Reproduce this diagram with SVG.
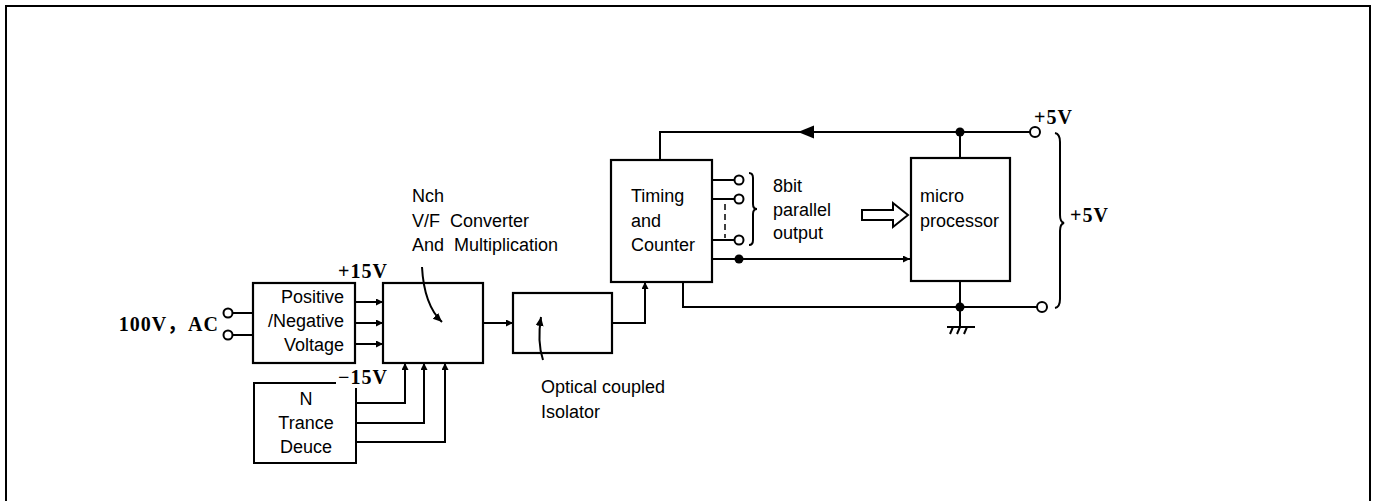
<svg xmlns="http://www.w3.org/2000/svg" width="1375" height="501" viewBox="0 0 1375 501">
<style>
.box{fill:#fff;stroke:#000;stroke-width:2.2}
.ln{fill:none;stroke:#000;stroke-width:2}
.t{font-family:"Liberation Sans",Arial,sans-serif;font-size:18px;fill:#000}
.s{font-family:"Liberation Serif","Times New Roman","Noto Sans CJK SC",serif;font-size:20px;font-weight:bold;fill:#000;letter-spacing:1px}
.term{fill:#fff;stroke:#000;stroke-width:2}
.dot{fill:#000}
</style>
<defs>
<marker id="ah" viewBox="0 0 8 8" refX="8" refY="4" markerWidth="8" markerHeight="7" markerUnits="userSpaceOnUse" orient="auto">
<path d="M0,0 L8,4 L0,8 Z" fill="#000"/>
</marker>
<marker id="ah2" viewBox="0 0 10 10" refX="9" refY="5" markerWidth="10" markerHeight="10" markerUnits="userSpaceOnUse" orient="auto">
<path d="M0,1 L9,5 L0,9 Z" fill="#000"/>
</marker>
</defs>
<rect x="0" y="0" width="1375" height="501" fill="#fff"/>
<rect x="6" y="6" width="1364" height="510" fill="none" stroke="#000" stroke-width="2"/>

<g id="ac-input">
  <circle class="term" cx="228" cy="313" r="4.5"/>
  <circle class="term" cx="228" cy="335" r="4.5"/>
  <text class="s" x="219" y="331" text-anchor="end">100V，AC</text>
</g>

<g id="pn-voltage">
  <rect class="box" x="253" y="283" width="102" height="80"/>
  <text class="t" x="344" y="303" text-anchor="end">Positive</text>
  <text class="t" x="344" y="327" text-anchor="end">/Negative</text>
  <text class="t" x="344" y="351" text-anchor="end">Voltage</text>
  <text class="s" x="338" y="278">+15V</text>
</g>

<g id="n-transducer">
  <path class="ln" d="M336,383 H254 V463 H356 V388" stroke-width="2.2"/>
  <text class="t" x="306" y="405" text-anchor="middle">N</text>
  <text class="t" x="306" y="429" text-anchor="middle">Trance</text>
  <text class="t" x="306" y="453" text-anchor="middle">Deuce</text>
  <text class="s" x="338" y="384">−15V</text>
</g>

<g id="vf-converter">
  <rect class="box" x="383" y="283" width="100" height="80"/>
  <text class="t" x="412" y="202">Nch</text>
  <text class="t" x="412" y="227" xml:space="preserve">V/F  Converter</text>
  <text class="t" x="412" y="251" xml:space="preserve">And  Multiplication</text>
</g>

<g id="isolator">
  <rect class="box" x="513" y="293" width="99" height="60"/>
  <text class="t" x="541" y="393">Optical coupled</text>
  <text class="t" x="541" y="418">Isolator</text>
</g>

<g id="timing-counter">
  <rect class="box" x="611" y="160" width="101" height="122"/>
  <text class="t" x="631" y="202">Timing</text>
  <text class="t" x="631" y="227">and</text>
  <text class="t" x="631" y="251">Counter</text>
</g>

<g id="parallel-label">
  <text class="t" x="773" y="192">8bit</text>
  <text class="t" x="773" y="216">parallel</text>
  <text class="t" x="773" y="239">output</text>
</g>

<g id="microprocessor">
  <rect class="box" x="911" y="158" width="99" height="123"/>
  <text class="t" x="920" y="202">micro</text>
  <text class="t" x="920" y="227">processor</text>
</g>

<g id="supply-labels">
  <text class="s" x="1034" y="124">+5V</text>
  <text class="s" x="1070" y="222">+5V</text>
</g>

<g id="connectors">
  <!-- AC input -->
  <line class="ln" x1="232.5" y1="313" x2="253" y2="313"/>
  <line class="ln" x1="232.5" y1="335" x2="253" y2="335"/>
  <!-- P/N to V/F -->
  <line class="ln" x1="355" y1="302" x2="383" y2="302" marker-end="url(#ah)"/>
  <line class="ln" x1="355" y1="323" x2="383" y2="323" marker-end="url(#ah)"/>
  <line class="ln" x1="355" y1="344" x2="383" y2="344" marker-end="url(#ah)"/>
  <!-- N to V/F -->
  <path class="ln" d="M356,403 H405 V363" marker-end="url(#ah)"/>
  <path class="ln" d="M356,423 H424 V363" marker-end="url(#ah)"/>
  <path class="ln" d="M356,442 H445 V363" marker-end="url(#ah)"/>
  <!-- V/F to isolator -->
  <line class="ln" x1="483" y1="323" x2="513" y2="323" marker-end="url(#ah)"/>
  <!-- isolator to timing -->
  <path class="ln" d="M612,323 H645 V282" marker-end="url(#ah)"/>
  <!-- top +5V line -->
  <path class="ln" d="M1030,132 H660 V160"/>
  <path d="M798,132 L814,125.5 L814,138.5 Z" fill="#000"/>
  <line class="ln" x1="960" y1="132" x2="960" y2="158"/>
  <circle class="dot" cx="960" cy="132" r="4.5"/>
  <circle class="term" cx="1035" cy="132" r="5"/>
  <!-- parallel outputs -->
  <line class="ln" x1="712" y1="180" x2="735" y2="180"/>
  <line class="ln" x1="712" y1="199" x2="735" y2="199"/>
  <line class="ln" x1="712" y1="240" x2="735" y2="240"/>
  <line x1="725" y1="204" x2="725" y2="238" stroke="#000" stroke-width="1.5" stroke-dasharray="6,4"/>
  <circle class="term" cx="739" cy="180" r="4.5"/>
  <circle class="term" cx="739" cy="199" r="4.5"/>
  <circle class="term" cx="739" cy="240" r="4.5"/>
  <path class="ln" d="M749,173 Q753,173 753,178 V204 Q753,209 757,209 Q753,209 753,214 V240 Q753,245 749,245" stroke-width="1.8"/>
  <!-- hollow bus arrow -->
  <path d="M862,210 H893 V203 L908,215 L893,227 V220 H862 Z" fill="#fff" stroke="#000" stroke-width="2"/>
  <!-- timing to micro -->
  <line class="ln" x1="712" y1="259" x2="910" y2="259" marker-end="url(#ah)"/>
  <circle class="dot" cx="739" cy="259" r="4.5"/>
  <!-- bottom ground line -->
  <path class="ln" d="M683,282 V307 H1037"/>
  <line class="ln" x1="960" y1="281" x2="960" y2="327"/>
  <circle class="dot" cx="960" cy="307" r="4.5"/>
  <circle class="term" cx="1042" cy="307" r="5"/>
  <line class="ln" x1="947" y1="327" x2="975" y2="327"/>
  <path class="ln" d="M953,327 L950,334 M960,327 L957,334 M967,327 L964,334" stroke-width="1.6"/>
  <!-- big brace -->
  <path class="ln" d="M1055,133 Q1060,134 1060,142 V215 Q1060,222 1064,223 Q1060,224 1060,231 V299 Q1060,307 1055,308"/>
  <!-- leader arrows -->
  <path class="ln" d="M422,267 Q424,305 442,322" stroke-width="1.8" marker-end="url(#ah2)"/>
  <path class="ln" d="M543,360 Q537,342 541,317" stroke-width="1.8" marker-end="url(#ah2)"/>
</g>
</svg>
